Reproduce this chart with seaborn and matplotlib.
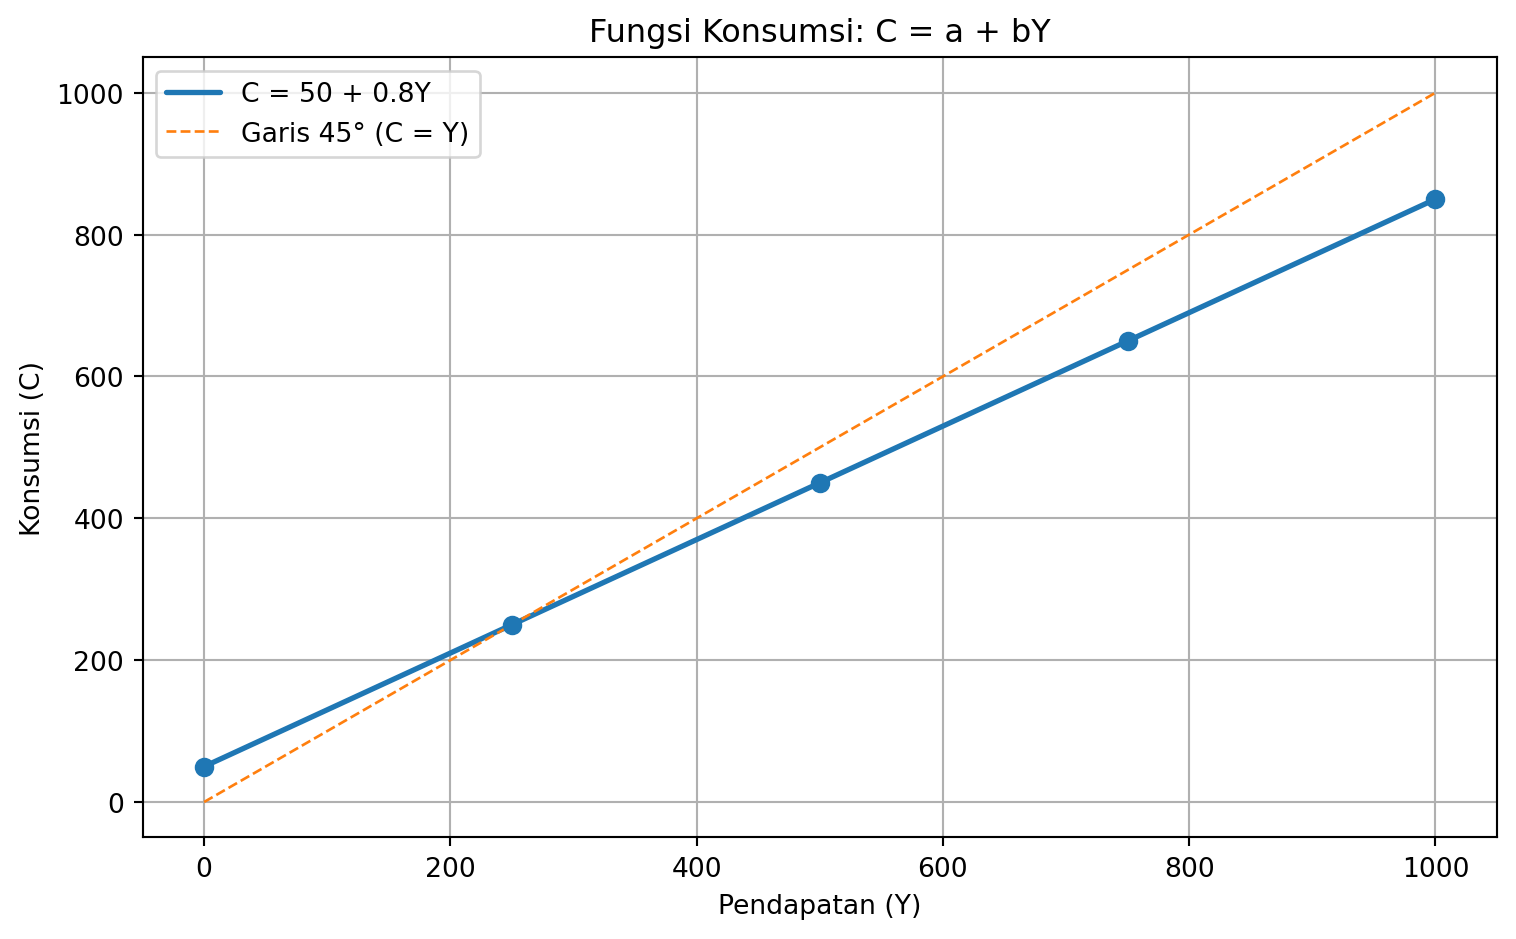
import matplotlib
matplotlib.use("Agg")
import matplotlib.pyplot as plt
import seaborn as sns
import pandas as pd

sns.set_style("white")
plt.rcParams["font.family"] = ["DejaVu Sans"]
plt.rcParams.update({"text.color": "black", "axes.labelcolor": "black",
                     "xtick.color": "black", "ytick.color": "black"})

pendapatan = [0, 250, 500, 750, 1000]
konsumsi = [50, 250, 450, 650, 850]
garis_45 = [0, 250, 500, 750, 1000]

df = pd.DataFrame({"Y": pendapatan, "C": konsumsi, "C45": garis_45})

DPI = 191.5
fig, ax = plt.subplots(figsize=(1516 / DPI, 940 / DPI), dpi=DPI)
sns.lineplot(data=df, x="Y", y="C", color="#1f77b4", linewidth=2,
             label="C = 50 + 0.8Y", ax=ax)
sns.scatterplot(data=df, x="Y", y="C", color="#1f77b4", s=40,
                edgecolor="#1f77b4", linewidth=1, zorder=3, ax=ax)
sns.lineplot(data=df, x="Y", y="C45", color="#ff7f0e", linewidth=1,
             linestyle="--", label="Garis 45° (C = Y)", ax=ax)

for s in ax.spines.values():
    s.set_color("black")
    s.set_linewidth(0.8)
ax.tick_params(axis="both", which="both", length=3.5, width=0.8,
               direction="out", bottom=True, left=True, labelsize=10)
ax.grid(True, color="#b0b0b0", linewidth=0.8)
ax.set_axisbelow(True)
ax.set_title("Fungsi Konsumsi: C = a + bY", fontsize=12)
ax.set_xlabel("Pendapatan (Y)", fontsize=10)
ax.set_ylabel("Konsumsi (C)", fontsize=10)
ax.legend(loc="upper left", fontsize=10, frameon=True)

fig.subplots_adjust(left=0.094, right=0.9875, top=0.938, bottom=0.108)
fig.savefig("out.png", dpi=DPI)
